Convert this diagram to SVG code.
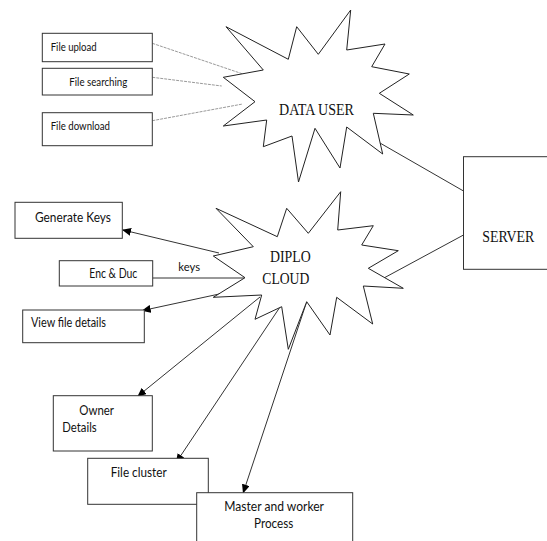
<svg xmlns="http://www.w3.org/2000/svg" width="547" height="541" viewBox="0 0 547 541">
<style>
.box{fill:#fff;stroke:#333;stroke-width:1}
.star{fill:#fff;stroke:#222;stroke-width:1;stroke-linejoin:miter}
.t{font-family:Lato,"Open Sans","Liberation Sans",sans-serif;fill:#111}
.s{font-family:"Liberation Serif","Times New Roman",serif;fill:#111;font-size:16px}
.dot{stroke:#9a9a9a;stroke-width:1;stroke-dasharray:3 1;fill:none}
.ln{stroke:#333;stroke-width:1;fill:none}
.ar{stroke:#333;stroke-width:1;fill:none;marker-end:url(#ah)}
</style>
<defs>
<marker id="ah" markerWidth="9" markerHeight="8" refX="8" refY="4" orient="auto" markerUnits="userSpaceOnUse">
<path d="M0,0 L9,4 L0,8 Z" fill="#000"/>
</marker>
</defs>
<rect width="547" height="541" fill="#fff"/>

<g id="connectors">
<line class="dot" x1="152.3" y1="43.3" x2="252.7" y2="77.3"/>
<line class="dot" x1="152.3" y1="77.3" x2="221.7" y2="86"/>
<line class="dot" x1="152.3" y1="120.7" x2="242.7" y2="104"/>
<line class="ln" x1="373" y1="139" x2="463.5" y2="191"/>
<line class="ln" x1="383" y1="278.5" x2="463.5" y2="235"/>
<line class="ar" x1="219" y1="253" x2="123" y2="230"/>
<line class="ln" x1="152.7" y1="278" x2="245" y2="278"/>
<line class="ar" x1="228.5" y1="292" x2="142.7" y2="310.5"/>
<line class="ar" x1="260" y1="297" x2="138" y2="396"/>
<line class="ar" x1="280" y1="307" x2="176.5" y2="462"/>
<line class="ar" x1="306.7" y1="301.7" x2="243.3" y2="492.5"/>
<text class="t" x="178.3" y="271" font-size="12" textLength="21.7" lengthAdjust="spacingAndGlyphs">keys</text>
</g>

<g id="data-user">
<polygon class="star" points="226,26.7 288.3,59.3 296.7,26.7 318.3,54.3 350.7,10 346.7,50 385,44 371.7,66.7 409.3,74 379.3,93.3 413.3,115 373.3,113.3 382.7,154 346.7,127 340,168 315,128.3 298.5,182 292,136 263.3,146.7 266.7,120 223.3,126 255,101.7 223.3,77.3 263.3,70"/>
<text class="s" x="279" y="115" font-size="15" textLength="75" lengthAdjust="spacingAndGlyphs">DATA USER</text>
</g>

<g id="file-upload">
<rect class="box" x="42.3" y="33.3" width="110" height="28.4"/>
<text class="t" x="50.7" y="50.7" font-size="11" textLength="46" lengthAdjust="spacingAndGlyphs">File upload</text>
</g>
<g id="file-searching">
<rect class="box" x="42.3" y="68.3" width="110" height="26.7"/>
<text class="t" x="69.3" y="85.7" font-size="11" textLength="58" lengthAdjust="spacingAndGlyphs">File searching</text>
</g>
<g id="file-download">
<rect class="box" x="42.3" y="112.7" width="110" height="33"/>
<text class="t" x="50.7" y="130" font-size="11" textLength="59.3" lengthAdjust="spacingAndGlyphs">File download</text>
</g>

<g id="server">
<rect class="box" x="463.5" y="156.7" width="100" height="112.6"/>
<text class="s" x="482.3" y="242.3" font-size="15" textLength="52" lengthAdjust="spacingAndGlyphs">SERVER</text>
</g>

<g id="diplo-cloud">
<polygon class="star" points="216,208.3 277.3,236.7 286.7,208.3 308.3,233.3 340.7,191.7 337.7,230 373.3,225.7 361.7,245 398.3,250.7 368.3,268.3 403.3,288.3 363.3,286 372.7,324 336.7,297.3 330,335 306.7,301.7 288.3,349.3 281.7,306.7 255,319.3 261.7,295 213.3,297.3 245,277.7 213.3,256 253.3,246.7"/>
<text class="s" x="270" y="261.7" textLength="40.7" lengthAdjust="spacingAndGlyphs">DIPLO</text>
<text class="s" x="262.3" y="284.3" textLength="47" lengthAdjust="spacingAndGlyphs">CLOUD</text>
</g>

<g id="generate-keys">
<rect class="box" x="15" y="202.3" width="107.3" height="36"/>
<text class="t" x="35" y="222.3" font-size="12.5" textLength="76" lengthAdjust="spacingAndGlyphs">Generate Keys</text>
</g>
<g id="enc-duc">
<rect class="box" x="59.3" y="260.7" width="93.4" height="25.3"/>
<text class="t" x="89.3" y="278.3" font-size="12.5" textLength="48" lengthAdjust="spacingAndGlyphs">Enc &amp; Duc</text>
</g>
<g id="view-file-details">
<rect class="box" x="22.7" y="310" width="121.6" height="32.7"/>
<text class="t" x="31" y="327.3" font-size="12.5" textLength="75" lengthAdjust="spacingAndGlyphs">View file details</text>
</g>

<g id="owner-details">
<rect class="box" x="53.3" y="395.7" width="99" height="55.3"/>
<text class="t" x="79.3" y="415" font-size="12.5" textLength="34.7" lengthAdjust="spacingAndGlyphs">Owner</text>
<text class="t" x="62.3" y="432.3" font-size="12.5" textLength="34.4" lengthAdjust="spacingAndGlyphs">Details</text>
</g>
<g id="file-cluster">
<rect class="box" x="87.7" y="458.3" width="120.6" height="46"/>
<text class="t" x="110.7" y="476.7" font-size="12.5" textLength="56" lengthAdjust="spacingAndGlyphs">File cluster</text>
</g>
<g id="master-worker">
<rect class="box" x="196.7" y="492.7" width="156" height="60"/>
<text class="t" x="224.3" y="510.7" font-size="12.5" textLength="99.7" lengthAdjust="spacingAndGlyphs">Master and worker</text>
<text class="t" x="254" y="528.3" font-size="12.5" textLength="39.3" lengthAdjust="spacingAndGlyphs">Process</text>
</g>
</svg>
